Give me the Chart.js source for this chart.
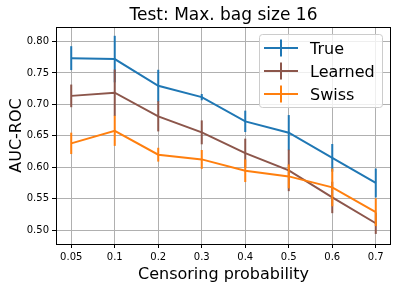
<!DOCTYPE html>
<html>
<head>
<meta charset="utf-8">
<script src="https://cdn.jsdelivr.net/npm/chart.js@4.4.0/dist/chart.umd.min.js"></script>
<style>
    html, body { margin: 0; padding: 0; background: #fff; }
    #wrap { width: 401px; height: 287px; }
</style>
</head>
<body>
<div id="wrap"><canvas id="myChart" width="401" height="287"></canvas></div>
<script>
var censoring = ['0.05', '0.1', '0.2', '0.3', '0.4', '0.5', '0.6', '0.7'];
var yTicks = [0.50, 0.55, 0.60, 0.65, 0.70, 0.75, 0.80];

var trueAuc = [0.7735, 0.772, 0.7295, 0.7115, 0.673, 0.655, 0.615, 0.575];
var trueErr = [0.019, 0.037, 0.0255, 0.005, 0.017, 0.028, 0.022, 0.023];

var learnedAuc = [0.7135, 0.7185, 0.681, 0.6555, 0.6225, 0.595, 0.552, 0.511];
var learnedErr = [0.018, 0.037, 0.024, 0.019, 0.023, 0.033, 0.025, 0.017];

var swissAuc = [0.638, 0.658, 0.62, 0.6125, 0.5945, 0.5855, 0.568, 0.5285];
var swissErr = [0.017, 0.024, 0.011, 0.015, 0.018, 0.019, 0.030, 0.022];

var seriesNames = ['True', 'Learned', 'Swiss'];
var seriesColors = ['#1f77b4', '#8c564b', '#ff7f0e'];
var FONT = '"DejaVu Sans", sans-serif';

function toPoints(values) {
    return values.map(function (v, i) {
        return { x: i, y: v };
    });
}

var errors = [trueErr, learnedErr, swissErr];

// error bars, drawn under each dataset's line
var errorBarPlugin = {
    id: 'errorBars',
    beforeDatasetDraw: function (chart, args) {
        var ctx = chart.ctx;
        var xs = chart.scales.x;
        var ys = chart.scales.y;
        var ds = chart.data.datasets[args.index];
        var err = errors[args.index];
        ctx.save();
        ctx.strokeStyle = ds.borderColor;
        ctx.lineWidth = 2;
        ds.data.forEach(function (p, i) {
            var px = xs.getPixelForValue(p.x);
            ctx.beginPath();
            ctx.moveTo(px, ys.getPixelForValue(p.y + err[i]));
            ctx.lineTo(px, ys.getPixelForValue(p.y - err[i]));
            ctx.stroke();
        });
        ctx.restore();
    }
};

// frame, title, axis labels and legend
var decorPlugin = {
    id: 'decor',
    afterDraw: function (chart) {
        var ctx = chart.ctx;
        var a = chart.chartArea;
        ctx.save();

        ctx.strokeStyle = '#000';
        ctx.lineWidth = 1;
        ctx.strokeRect(Math.round(a.left) + 0.5, Math.round(a.top) + 0.5,
            Math.round(a.right - a.left) - 1, Math.round(a.bottom - a.top));

        var cx = (a.left + a.right) / 2;
        ctx.fillStyle = '#000';
        ctx.textAlign = 'center';
        ctx.textBaseline = 'alphabetic';
        ctx.font = '17px ' + FONT;
        ctx.fillText('Test: Max. bag size 16', cx, 20);

        ctx.font = '16px ' + FONT;
        ctx.fillText('Censoring probability', cx, 279);

        ctx.save();
        ctx.translate(21, (a.top + a.bottom) / 2);
        ctx.rotate(-Math.PI / 2);
        ctx.fillText('AUC-ROC', 0, 0);
        ctx.restore();

        // legend box
        var bx = 259.5, by = 34.5, bw = 123, bh = 73, r = 3;
        ctx.beginPath();
        ctx.moveTo(bx + r, by);
        ctx.arcTo(bx + bw, by, bx + bw, by + bh, r);
        ctx.arcTo(bx + bw, by + bh, bx, by + bh, r);
        ctx.arcTo(bx, by + bh, bx, by, r);
        ctx.arcTo(bx, by, bx + bw, by, r);
        ctx.closePath();
        ctx.fillStyle = 'rgba(255,255,255,0.8)';
        ctx.fill();
        ctx.strokeStyle = '#cccccc';
        ctx.stroke();

        var rows = [48, 71, 94];
        ctx.textAlign = 'left';
        seriesNames.forEach(function (name, i) {
            var ly = rows[i];
            ctx.strokeStyle = seriesColors[i];
            ctx.lineWidth = 2;
            ctx.beginPath();
            ctx.moveTo(264, ly);
            ctx.lineTo(298, ly);
            ctx.moveTo(281, ly - 8.5);
            ctx.lineTo(281, ly + 8.5);
            ctx.stroke();
            ctx.fillStyle = '#000';
            ctx.fillText(name, 310, ly + 6);
        });

        ctx.restore();
    }
};

var ctx = document.getElementById('myChart').getContext('2d');
var myChart = new Chart(ctx, {
    type: 'line',
    data: {
        datasets: [
            { label: seriesNames[0], data: toPoints(trueAuc), borderColor: seriesColors[0], order: 3 },
            { label: seriesNames[1], data: toPoints(learnedAuc), borderColor: seriesColors[1], order: 2 },
            { label: seriesNames[2], data: toPoints(swissAuc), borderColor: seriesColors[2], order: 1 }
        ]
    },
    options: {
        responsive: false,
        animation: false,
        devicePixelRatio: 1,
        layout: { padding: { left: 0, right: 10, top: 27, bottom: 0 } },
        elements: {
            line: { borderWidth: 2, tension: 0, fill: false },
            point: { radius: 0, hoverRadius: 0 }
        },
        plugins: {
            legend: { display: false },
            title: { display: false },
            tooltip: { enabled: false }
        },
        scales: {
            x: {
                type: 'linear',
                min: -0.35,
                max: 7.35,
                afterBuildTicks: function (axis) {
                    axis.ticks = censoring.map(function (c, i) { return { value: i }; });
                },
                afterFit: function (axis) { axis.height = 43; },
                ticks: {
                    color: '#000',
                    padding: 3,
                    maxRotation: 0,
                    autoSkip: false,
                    font: { family: FONT, size: 10 },
                    callback: function (v) { return censoring[v]; }
                },
                grid: { color: '#b0b0b0', lineWidth: 1, tickColor: '#000', tickLength: 4 },
                border: { display: false }
            },
            y: {
                min: 0.478,
                max: 0.823,
                afterBuildTicks: function (axis) {
                    axis.ticks = yTicks.map(function (v) { return { value: v }; });
                },
                afterFit: function (axis) { axis.width = 56; },
                ticks: {
                    color: '#000',
                    padding: 3,
                    font: { family: FONT, size: 10 },
                    callback: function (v) { return v.toFixed(2); }
                },
                grid: { color: '#b0b0b0', lineWidth: 1, tickColor: '#000', tickLength: 4 },
                border: { display: false }
            }
        }
    },
    plugins: [errorBarPlugin, decorPlugin]
});
</script>
</body>
</html>
